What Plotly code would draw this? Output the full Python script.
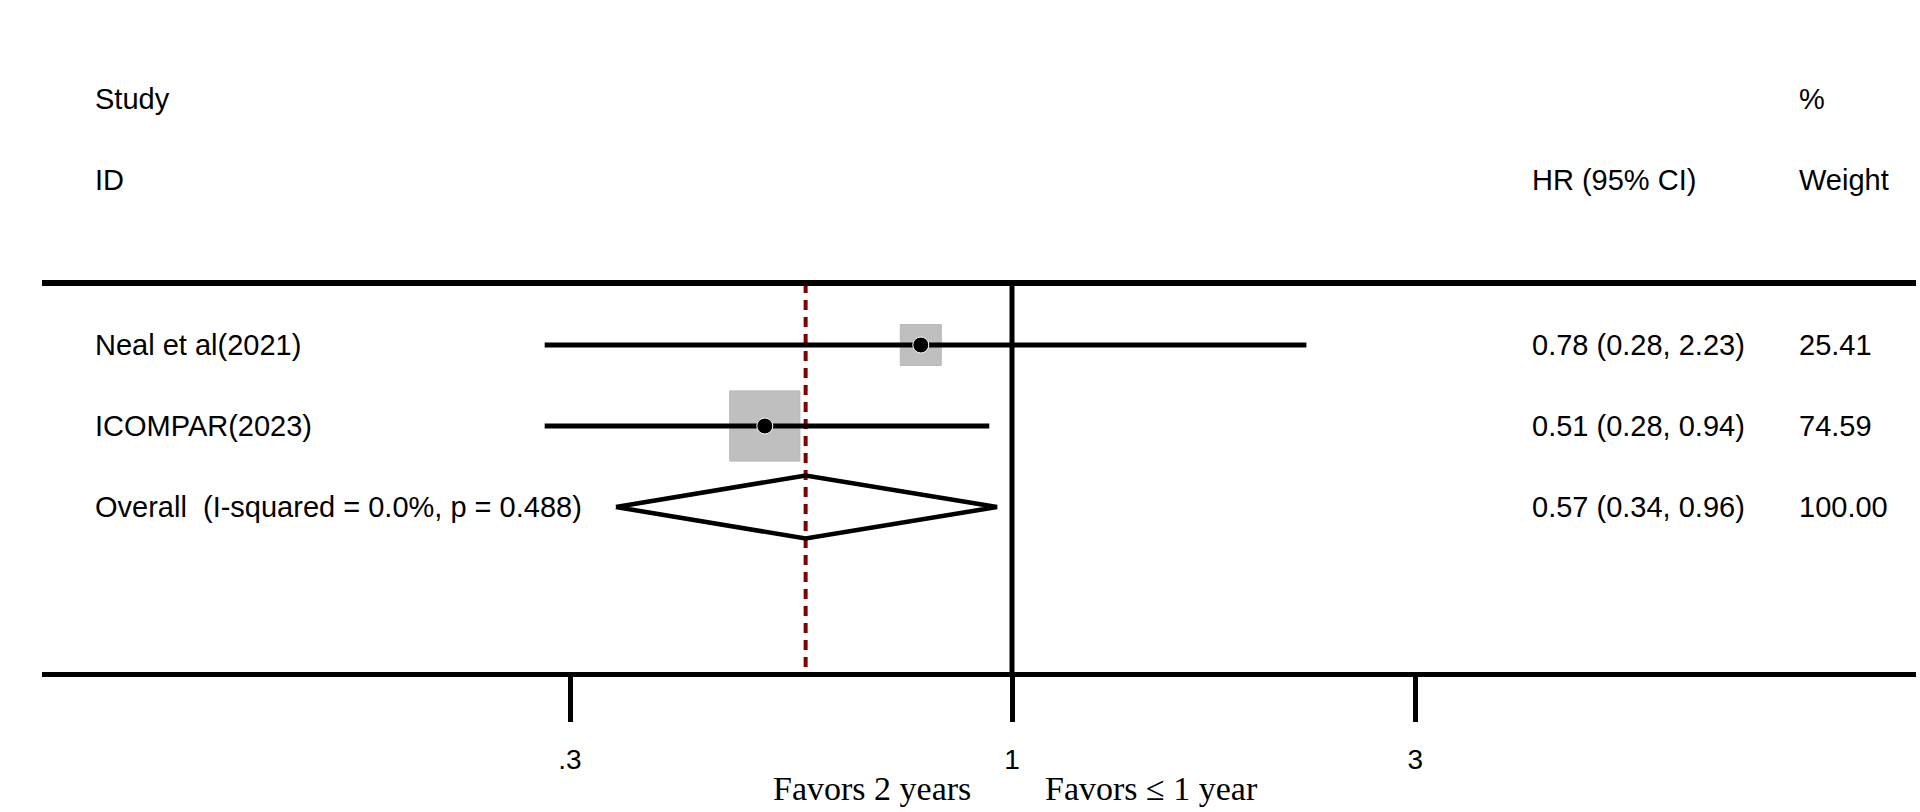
import plotly.graph_objects as go
import math

# ---------------- data ----------------
studies = ["Neal et al(2021)", "ICOMPAR(2023)"]
hr = [0.78, 0.51]
ci_lo = [0.28, 0.28]
ci_hi = [2.23, 0.94]
weights = [25.41, 74.59]

overall_label = "Overall\u00a0\u00a0(I-squared = 0.0%, p = 0.488)"
overall_hr = 0.57
overall_lo = 0.34
overall_hi = 0.96
overall_weight = 100.00

tick_vals = [0.3, 1, 3]
tick_text = [".3", "1", "3"]

header_left = ["Study", "ID"]
header_ci = "HR (95% CI)"
header_w = ["%", "Weight"]
favors_left = "Favors 2 years"
favors_right = "Favors \u2264 1 year"

# ---------------- layout helpers ----------------
W, H = 1920, 812
ML, MR, MT, MB = 42, 4, 0, 140
PX_PER_DEC = 845.3
X_ONE = 1012
plot_w = W - ML - MR
plot_h = H - MT - MB
xr = [(ML - X_ONE) / PX_PER_DEC, (W - MR - X_ONE) / PX_PER_DEC]

ROW0, ROWH = 345, 81
def row_of(py):
    return (py - ROW0) / ROWH
yr = [row_of(H - MB), row_of(MT)]
y_top_line = row_of(283)
y_bottom = yr[0]

def xpaper(px):
    return (px - ML) / plot_w

def ypaper(py):
    return (H - MB - py) / plot_h

SANS = "Arial, Liberation Sans, sans-serif"
SERIF = "Times New Roman, Liberation Serif, serif"
FS = 29

fig = go.Figure()

rows = list(range(len(studies)))
row_over = len(studies)

# weight boxes
box_k = 8.13
fig.add_trace(go.Scatter(
    x=hr, y=rows, mode="markers",
    marker=dict(symbol="square", size=[box_k * math.sqrt(w) for w in weights],
                color="#a5a5a5", line=dict(color="#9a9a9a", width=1)),
    showlegend=False, hoverinfo="skip"))

# overall dashed line
fig.add_trace(go.Scatter(
    x=[overall_hr, overall_hr], y=[y_top_line, y_bottom], mode="lines",
    line=dict(color="#800000", width=4, dash="10px,7px"),
    showlegend=False, hoverinfo="skip"))

# CI lines
for i in rows:
    fig.add_trace(go.Scatter(
        x=[ci_lo[i], ci_hi[i]], y=[i, i], mode="lines",
        line=dict(color="black", width=5),
        showlegend=False, hoverinfo="skip"))

# null line at 1
fig.add_trace(go.Scatter(
    x=[1, 1], y=[y_top_line, y_bottom], mode="lines",
    line=dict(color="black", width=5),
    showlegend=False, hoverinfo="skip"))

# point estimates
fig.add_trace(go.Scatter(
    x=hr, y=rows, mode="markers",
    marker=dict(symbol="circle", size=16, color="black",
                line=dict(color="white", width=1)),
    showlegend=False, hoverinfo="skip"))

# overall diamond
dh = 0.39
fig.add_trace(go.Scatter(
    x=[overall_lo, overall_hr, overall_hi, overall_hr, overall_lo],
    y=[row_over, row_over - dh, row_over, row_over + dh, row_over],
    mode="lines", line=dict(color="black", width=4.5),
    showlegend=False, hoverinfo="skip"))

# top horizontal rule
fig.add_shape(type="line", xref="paper", yref="y", x0=0, x1=1,
              y0=y_top_line, y1=y_top_line,
              line=dict(color="black", width=6))

ann = []
def text(x, y, s, font=SANS, size=FS, xanchor="left", yref="y"):
    ann.append(dict(x=x, y=y, xref="paper", yref=yref, text=s, showarrow=False,
                    xanchor=xanchor, yanchor="middle",
                    font=dict(family=font, size=size, color="black")))

# headers
text(xpaper(93), row_of(99), header_left[0])
text(xpaper(93), row_of(180), header_left[1])
text(xpaper(1530), row_of(180), header_ci)
text(xpaper(1797), row_of(99), header_w[0])
text(xpaper(1797), row_of(180), header_w[1])

# study rows
for i in rows:
    text(xpaper(93), i, studies[i])
    text(xpaper(1530), i, f"{hr[i]:.2f} ({ci_lo[i]:.2f}, {ci_hi[i]:.2f})")
    text(xpaper(1797), i, f"{weights[i]:.2f}")
text(xpaper(93), row_over, overall_label)
text(xpaper(1530), row_over, f"{overall_hr:.2f} ({overall_lo:.2f}, {overall_hi:.2f})")
text(xpaper(1797), row_over, f"{overall_weight:.2f}")

# favors labels (below the axis, paper-referenced)
text(xpaper(973), ypaper(788), favors_left, font=SERIF, size=34,
     xanchor="right", yref="paper")
text(xpaper(1043), ypaper(788), favors_right, font=SERIF, size=34,
     xanchor="left", yref="paper")

fig.update_layout(
    width=W, height=H,
    margin=dict(l=ML, r=MR, t=MT, b=MB, pad=0, autoexpand=False),
    paper_bgcolor="white", plot_bgcolor="white",
    annotations=ann,
    xaxis=dict(type="log", range=xr, tickvals=tick_vals, ticktext=tick_text,
               ticks="outside", ticklen=45, tickwidth=5, tickcolor="black",
               showline=True, linewidth=5, linecolor="black",
               showgrid=False, zeroline=False, ticklabelstandoff=13,
               tickfont=dict(family=SANS, size=28, color="black"),
               fixedrange=True),
    yaxis=dict(range=yr, visible=False, showgrid=False, zeroline=False,
               fixedrange=True),
)

fig.write_html("out.html", config={"displayModeBar": False},
               post_script="document.body.style.margin='0';document.body.style.overflow='hidden';")
